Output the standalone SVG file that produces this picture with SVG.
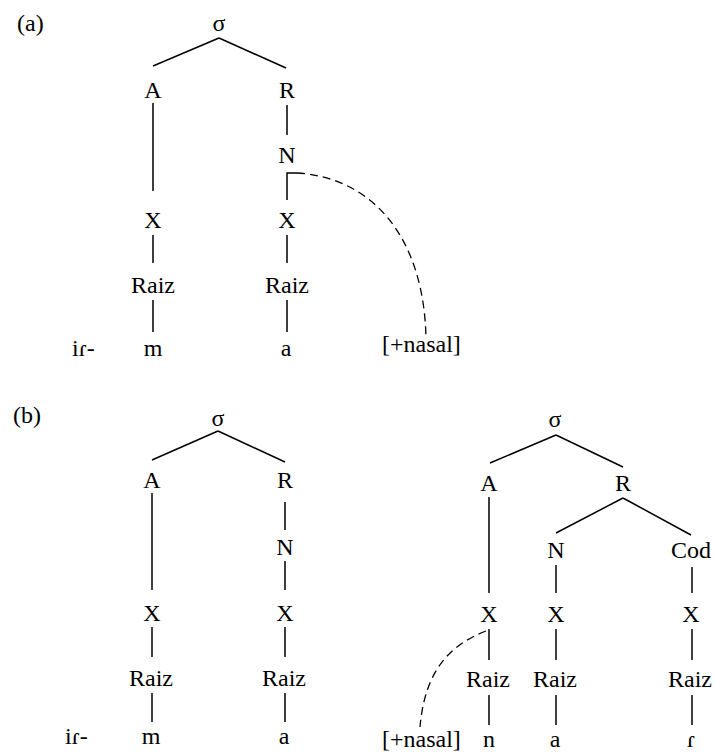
<svg xmlns="http://www.w3.org/2000/svg" width="715" height="754" viewBox="0 0 715 754">
<style>
text{font-family:"Liberation Serif","Times New Roman",serif;font-size:24px;fill:#000;text-anchor:middle}
.l{text-anchor:start}
.e{stroke:#000;stroke-width:1.5;fill:none}
.d{stroke:#000;stroke-width:1.3;fill:none;stroke-dasharray:8 5}
</style>
<rect width="715" height="754" fill="#fff"/>
<g id="labels">
<text class="l" x="17" y="31">(a)</text>
<text class="l" x="13" y="423">(b)</text>
</g>
<g id="connectors">
<!-- (a) -->
<path class="e" d="M219 38L153 66M219 38L286 68"/>
<path class="e" d="M153 103V191M287 105V135M287 200V173H297"/>
<path class="d" d="M297 173C375 178 424 240 426 338"/>
<path class="e" d="M153 235V263M287 235V263M153 300V332M287 300V332"/>
<!-- (b) left -->
<path class="e" d="M218 431L152 460M218 431L285 462"/>
<path class="e" d="M152 493V590M285 502V530M285 561V590"/>
<path class="e" d="M152 627V657M285 627V657M152 693V722M285 693V722"/>
<!-- (b) right -->
<path class="e" d="M556 435L490 463M556 435L623 467"/>
<path class="e" d="M623 498L556 533M623 498L691 535"/>
<path class="e" d="M489 497V593M556 565V593M692 567V593"/>
<path class="e" d="M489 629V660M556 629V660M692 629V660"/>
<path class="e" d="M489 695V725M556 695V725M692 695V725"/>
<path class="d" d="M486 631C450 645 425 670 420 727"/>
</g>
<g id="a-sigma"><text x="219" y="31">σ</text></g>
<g id="a-A"><text x="153" y="98">A</text></g>
<g id="a-R"><text x="287" y="98">R</text></g>
<g id="a-N"><text x="287" y="163">N</text></g>
<g id="a-X1"><text x="153" y="228">X</text></g>
<g id="a-X2"><text x="287" y="228">X</text></g>
<g id="a-Raiz1"><text x="153" y="293">Raiz</text></g>
<g id="a-Raiz2"><text x="287" y="293">Raiz</text></g>
<g id="a-ir"><text class="l" x="72" y="356">iɾ-</text></g>
<g id="a-m"><text x="153" y="356">m</text></g>
<g id="a-a"><text x="286" y="356">a</text></g>
<g id="a-nasal"><text class="l" x="382" y="352">[+nasal]</text></g>

<g id="b1-sigma"><text x="218" y="426">σ</text></g>
<g id="b1-A"><text x="152" y="488">A</text></g>
<g id="b1-R"><text x="285" y="488">R</text></g>
<g id="b1-N"><text x="285" y="555">N</text></g>
<g id="b1-X1"><text x="152" y="621">X</text></g>
<g id="b1-X2"><text x="285" y="621">X</text></g>
<g id="b1-Raiz1"><text x="151" y="686">Raiz</text></g>
<g id="b1-Raiz2"><text x="284" y="686">Raiz</text></g>
<g id="b1-ir"><text class="l" x="65" y="744">iɾ-</text></g>
<g id="b1-m"><text x="151" y="744">m</text></g>
<g id="b1-a"><text x="284" y="744">a</text></g>

<g id="b2-sigma"><text x="555" y="427">σ</text></g>
<g id="b2-A"><text x="489" y="491">A</text></g>
<g id="b2-R"><text x="623" y="491">R</text></g>
<g id="b2-N"><text x="556" y="558">N</text></g>
<g id="b2-Cod"><text x="691" y="558">Cod</text></g>
<g id="b2-X1"><text x="489" y="622">X</text></g>
<g id="b2-X2"><text x="556" y="622">X</text></g>
<g id="b2-X3"><text x="691" y="622">X</text></g>
<g id="b2-Raiz1"><text x="488" y="687">Raiz</text></g>
<g id="b2-Raiz2"><text x="555" y="687">Raiz</text></g>
<g id="b2-Raiz3"><text x="690" y="687">Raiz</text></g>
<g id="b2-nasal"><text class="l" x="382" y="747">[+nasal]</text></g>
<g id="b2-n"><text x="489" y="747">n</text></g>
<g id="b2-a"><text x="555" y="747">a</text></g>
<g id="b2-r"><text x="691" y="747">ɾ</text></g>
</svg>
